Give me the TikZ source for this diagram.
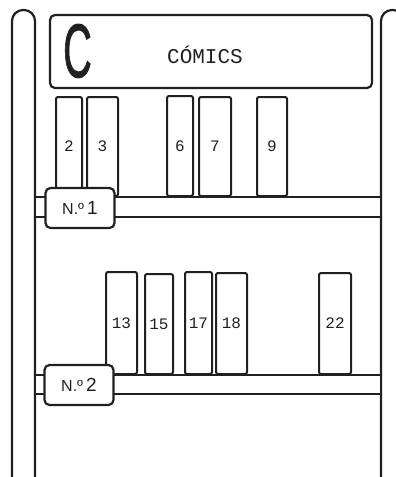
\documentclass[tikz,border=0pt]{standalone}
\usepackage{fontspec}
\setmainfont{Liberation Sans}
\newfontfamily\shelfmono{Liberation Mono}
\newfontfamily\signfont[FakeBold=1.5]{Liberation Sans}
\usepackage{graphicx}
\usepackage{xcolor}
\definecolor{ink}{HTML}{231F20}
\tikzset{
  post/.style={line width=2.2pt, draw=ink, fill=white, rounded corners=11pt},
  plank/.style={line width=2.2pt, draw=ink, fill=white},
  board/.style={line width=2.2pt, draw=ink, fill=white, rounded corners=5pt, inner sep=0pt},
  book/.style={line width=2pt, draw=ink, fill=white, rounded corners=2pt, inner sep=0pt, anchor=south, text=ink, font=\shelfmono\fontsize{16}{16}\selectfont},
  shelftag/.style={line width=2.2pt, draw=ink, fill=white, rounded corners=5pt, inner sep=0pt, minimum width=69, minimum height=40, text=ink},
}

\begin{document}
\begin{tikzpicture}[x=1pt, y=-1pt]
  \useasboundingbox (0,0) rectangle (396,477);
  \clip (0,0) rectangle (396,477);
  % Pfosten
  \draw[post] (12,10) rectangle (35,495);
  \draw[post] (381,10) rectangle (404,495);
  % Regalbretter
  \draw[plank] (35,197) rectangle (381,217);
  \draw[plank] (35,375) rectangle (381,394);
  % Schild
  \node[board, minimum width=322, minimum height=73] (sign) at (211,51.5) {};
  \node[inner sep=0pt, text=ink, font=\signfont\fontsize{76}{76}\selectfont] (bigC) at (77.5,51) {\scalebox{0.52}[1]{C}};
  \node[inner sep=0pt, text=ink, font=\shelfmono\fontsize{21}{21}\selectfont] (signtext) at (205,55) {CÓMICS};
  % Fach 1
  \foreach \lab/\cx/\w/\h in {2/69/26/99, 3/102.5/31/99, 6/180/26/100, 7/215/32/99, 9/272/30/99}
    \node[book, minimum width=\w, minimum height=\h] (b\lab) at (\cx,197) {\lab};
  % Fach 2
  \foreach \lab/\cx/\w/\h in {13/121.5/31/102, 15/159/28/100, 17/198.5/27/102, 18/231.5/31/101, 22/335/32/101}
    \node[book, minimum width=\w, minimum height=\h] (b\lab) at (\cx,375) {\lab};
  \node[shelftag] (tag1) at (80,208) {\fontsize{16}{16}\selectfont N.º\fontsize{19}{19}\selectfont\,1\hspace{10pt}};
  \node[shelftag] (tag2) at (79,385) {\fontsize{16}{16}\selectfont N.º\fontsize{19}{19}\selectfont\,2\hspace{10pt}};
\end{tikzpicture}
\end{document}
